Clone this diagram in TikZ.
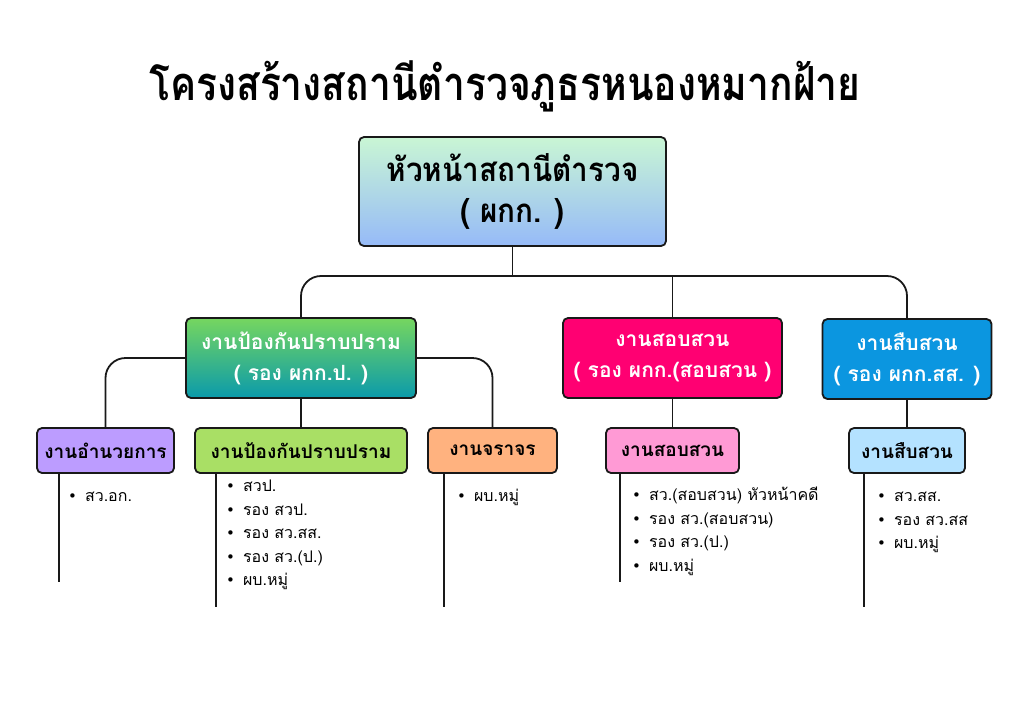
\documentclass[tikz,border=0pt]{standalone}
\usepackage{fontspec}
\setmainfont[Script=Thai]{Loma}
\newfontfamily\djv{DejaVu Sans}
\usetikzlibrary{calc}
\definecolor{headtop}{RGB}{201,246,212}
\definecolor{headbot}{RGB}{150,186,248}
\definecolor{grtop}{RGB}{118,214,95}
\definecolor{grbot}{RGB}{10,154,171}
\definecolor{pinkc}{RGB}{255,0,114}
\definecolor{bluec}{RGB}{11,150,224}
\definecolor{purc}{RGB}{188,156,255}
\definecolor{lgrc}{RGB}{169,223,101}
\definecolor{orc}{RGB}{255,178,127}
\definecolor{lpkc}{RGB}{255,154,213}
\definecolor{lblc}{RGB}{180,226,255}
\definecolor{edgec}{RGB}{25,25,25}
\newcommand{\bul}{{\djv\fontsize{15}{15}\selectfont •}\hspace{8pt}}
\tikzset{
  boxbase/.style={draw=edgec, line width=1.8pt, rounded corners=5pt, align=center, inner sep=0pt},
  mainbox/.style={boxbase, font=\bfseries\fontsize{21}{31}\selectfont, text=white},
  subbox/.style={boxbase, font=\bfseries\fontsize{19}{22}\selectfont, text=black},
  conn/.style={draw=edgec, line width=1.8pt},
  listnode/.style={anchor=north west, align=left, inner sep=0pt, font=\fontsize{16}{23.5}\selectfont}
}
\begin{document}
\begin{tikzpicture}[x=1pt,y=-1pt]
\useasboundingbox (0,0) rectangle (1024,724);
\fill[white] (0,0) rectangle (1024,724);
% title
\node[font=\bfseries\fontsize{47}{50}\selectfont] (title) at (505,86) {\scalebox{0.83}[1]{โครงสร้างสถานีตำรวจภูธรหนองหมากฝ้าย}};
% head
\node[boxbase, minimum width=307pt, minimum height=109pt, top color=headtop, bottom color=headbot,
      font=\bfseries\fontsize{33}{41}\selectfont] (head) at (512.5,191.5) {\scalebox{0.9}[1]{หัวหน้าสถานีตำรวจ}\\\scalebox{0.9}[1]{( ผกก. )}};
% level 2
\node[mainbox, minimum width=230pt, minimum height=80pt, top color=grtop, bottom color=grbot] (green) at (301,358) {งานป้องกันปราบปราม\\( รอง ผกก.ป. )};
\node[mainbox, minimum width=219pt, minimum height=80pt, fill=pinkc] (pink) at (672.5,358) {งานสอบสวน\\( รอง ผกก.(สอบสวน )};
\node[mainbox, minimum width=169pt, minimum height=80pt, fill=bluec] (blue) at (907,359) {งานสืบสวน\\( รอง ผกก.สส. )};
% level 3
\node[subbox, minimum width=137pt, minimum height=45pt, fill=purc] (pur) at (105.5,450.5) {งานอำนวยการ};
\node[subbox, minimum width=212pt, minimum height=45pt, fill=lgrc] (lgr) at (301,450.5) {งานป้องกันปราบปราม};
\node[subbox, minimum width=129pt, minimum height=45pt, fill=orc] (ora) at (492.5,450.5) {งานจราจร};
\node[subbox, minimum width=133pt, minimum height=45pt, fill=lpkc] (lpk) at (672.5,450.5) {งานสอบสวน};
\node[subbox, minimum width=116pt, minimum height=45pt, fill=lblc] (lbl) at (907,450.5) {งานสืบสวน};
% connectors
\coordinate (bus) at (512,276);
\draw[conn] (head.south) -- (head.south |- bus);
\draw[conn, rounded corners=20pt] (green.north) |- (bus) -| (blue.north);
\draw[conn] (pink.north) -- (pink.north |- bus);
\draw[conn, rounded corners=20pt] (green.west) -| (pur.north);
\draw[conn, rounded corners=20pt] (green.east) -| (ora.north);
\draw[conn] (green.south) -- (lgr.north);
\draw[conn] (pink.south) -- (lpk.north);
\draw[conn] (blue.south) -- (lbl.north);
% stems
\coordinate (s1) at (59,582);
\coordinate (s2) at (216,607);
\coordinate (s3) at (444,607);
\coordinate (s4) at (620,582);
\coordinate (s5) at (864,607);
\draw[conn] (pur.south -| s1) -- (s1);
\draw[conn] (lgr.south -| s2) -- (s2);
\draw[conn] (ora.south -| s3) -- (s3);
\draw[conn] (lpk.south -| s4) -- (s4);
\draw[conn] (lbl.south -| s5) -- (s5);
% lists
\node[listnode] (l1) at (68,492) {\bul สว.อก.};
\node[listnode] (l2) at (226,480) {\bul สวป.\\\bul รอง สวป.\\\bul รอง สว.สส.\\\bul รอง สว.(ป.)\\\bul ผบ.หมู่};
\node[listnode] (l3) at (457,489) {\bul ผบ.หมู่};
\node[listnode] (l4) at (632,487) {\bul สว.(สอบสวน) หัวหน้าคดี\\\bul รอง สว.(สอบสวน)\\\bul รอง สว.(ป.)\\\bul ผบ.หมู่};
\node[listnode] (l5) at (877,492) {\bul สว.สส.\\\bul รอง สว.สส\\\bul ผบ.หมู่};
\end{tikzpicture}
\end{document}
